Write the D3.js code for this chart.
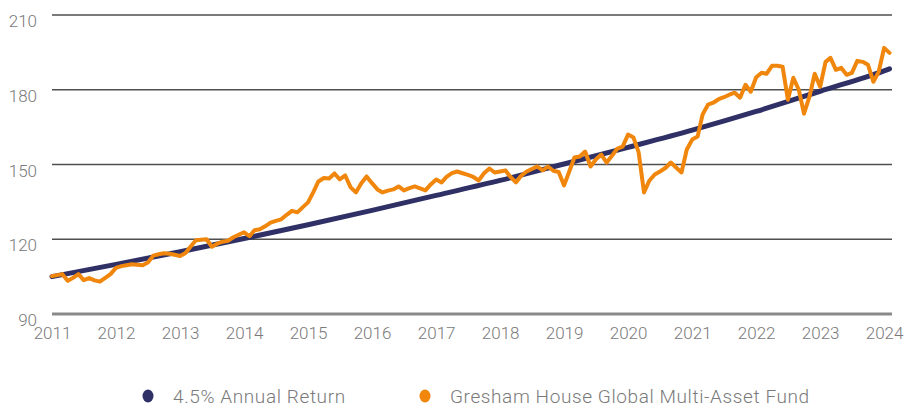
<!DOCTYPE html>
<html>
<head>
<meta charset="utf-8">
<script src="https://cdn.jsdelivr.net/npm/d3@7"></script>
<style>
  body { margin: 0; background: #fff; }
  text { font-family: Roboto, "Noto Sans", sans-serif; font-weight: 300; fill: #7a7a7a; }
</style>
</head>
<body>
<svg id="chart" width="904" height="407"></svg>
<script>
// fund values, monthly from Jan 2011 to Feb 2024
var fundValues = [
  105.2, 105.6, 106, 103.3, 104.5, 106, 103.6, 104.4, 103.5, 103, 104.5, 106,
  108.5, 109.2, 109.6, 110, 109.8, 109.6, 110.7, 113.4, 114, 114.4, 114.2, 113.8,
  113.3, 114.5, 117, 119.6, 119.8, 120, 117, 118.2, 119, 119.4, 120.8, 121.8,
  122.8, 121.2, 123.6, 124, 125.2, 126.7, 127.4, 128, 129.8, 131.4, 130.8, 132.8,
  134.8, 139, 143.2, 144.6, 144.4, 146.4, 144, 145.6, 140.8, 138.8, 142.5, 145.2,
  142.5, 140, 138.8, 139.5, 140, 141.2, 139.6, 140.5, 141.2, 140.4, 139.6, 142,
  144, 142.8, 145, 146.5, 147.2, 146.5, 145.8, 145, 143.6, 146.5, 148.4, 146.8,
  147.2, 147.6, 145, 142.8, 145.5, 147.2, 148.2, 149.2, 147.6, 149.2, 147.5, 147,
  141.6, 147.5, 152.8, 153.2, 155.2, 149.2, 152, 154, 150.8, 153.5, 156.4, 157.2,
  162, 160.8, 155, 138.8, 143.5, 146, 147.2, 148.6, 150.8, 148.8, 146.8, 156,
  160, 161.2, 170, 174, 174.8, 176.2, 177, 178, 178.8, 176.8, 182, 179.2,
  185, 186.8, 186.4, 189.6, 189.6, 189.2, 176, 184.8, 180, 170.4, 177.2, 186.4,
  181.2, 191.2, 192.8, 188, 188.8, 186, 186.8, 191.6, 191.2, 190, 183.2, 187.2,
  196.8, 194.8
];

// 4.5% annual return benchmark, read at each January (last point Feb 2024)
var benchMonths = [0, 12, 24, 36, 48, 60, 72, 84, 96, 108, 120, 132, 144, 156, 157];
var benchValues = [105, 109.9, 115, 120.3, 125.8, 131.6, 137.6, 143.6, 150.2, 156.9, 163.8, 171.3, 179.4, 187.6, 188.4];

var yTicks = [90, 120, 150, 180, 210];
var xYears = [2011, 2012, 2013, 2014, 2015, 2016, 2017, 2018, 2019, 2020, 2021, 2022, 2023, 2024];
var seriesNames = ['4.5% Annual Return', 'Gresham House Global Multi-Asset Fund'];
var seriesColors = ['#2f3065', '#f0860c'];

var svg = d3.select('#chart');

function monthDate(m) { return new Date(2011, m, 1); }

var x = d3.scaleTime()
  .domain([new Date(2011, 0, 1), new Date(2024, 1, 15)])
  .range([52, 892]);

var y = d3.scaleLinear()
  .domain([90, 210])
  .range([314, 15]);

// gridlines
svg.append('g')
  .selectAll('line')
  .data(yTicks)
  .enter().append('line')
  .attr('x1', 52)
  .attr('x2', 892)
  .attr('y1', function(d){ return y(d); })
  .attr('y2', function(d){ return y(d); })
  .attr('stroke', function(d){ return d == 90 ? '#8a8a8a' : '#4f4f4f'; })
  .attr('stroke-width', function(d){ return d == 90 ? 3 : 1.4; });

// y labels
svg.append('g')
  .selectAll('text')
  .data(yTicks)
  .enter().append('text')
  .attr('x', 37)
  .attr('y', function(d){ return y(d) + 12; })
  .style('text-anchor', 'end')
  .style('font-size', '17px')
  .text(function(d){ return d; });

// x axis labels
var xAxis = d3.axisBottom(x)
  .tickValues(xYears.map(function(yr){ return new Date(yr, 0, 1); }))
  .tickFormat(d3.timeFormat('%Y'))
  .tickSize(0)
  .tickPadding(0);

var gx = svg.append('g')
  .attr('transform', 'translate(0,' + 327 + ')')
  .call(xAxis);
gx.select('.domain').remove();
gx.selectAll('text')
  .attr('dy', '0.72em')
  .style('font-size', '17px')
  .style('font-family', 'Roboto, "Noto Sans", sans-serif')
  .style('font-weight', 300)
  .attr('fill', '#7a7a7a');

// benchmark line
var benchLine = d3.line()
  .x(function(d, i){ return x(monthDate(benchMonths[i])); })
  .y(function(d){ return y(d); })
  .curve(d3.curveMonotoneX);

svg.append('path')
  .datum(benchValues)
  .attr('d', benchLine)
  .attr('fill', 'none')
  .attr('stroke', seriesColors[0])
  .attr('stroke-width', 5)
  .attr('stroke-linecap', 'round');

// fund line
var fundLine = d3.line()
  .x(function(d, i){ return x(monthDate(i)); })
  .y(function(d){ return y(d); });

svg.append('path')
  .datum(fundValues)
  .attr('d', fundLine)
  .attr('fill', 'none')
  .attr('stroke', seriesColors[1])
  .attr('stroke-width', 4)
  .attr('stroke-linejoin', 'round')
  .attr('stroke-linecap', 'round');

// legend
var legendX = [148, 425];

var legend = svg.selectAll('.legend')
  .data(seriesNames)
  .enter().append('g')
  .attr('class', 'legend')
  .attr('transform', function(d, i){ return 'translate(' + legendX[i] + ',' + 396 + ')'; });

legend.append('ellipse')
  .attr('rx', 5.5)
  .attr('ry', 6.5)
  .style('fill', function(d, i){ return seriesColors[i]; });

legend.append('text')
  .attr('x', 25)
  .attr('y', 7)
  .style('font-size', '19px')
  .style('letter-spacing', '0.6px')
  .text(function(d){ return d; });
</script>
</body>
</html>
